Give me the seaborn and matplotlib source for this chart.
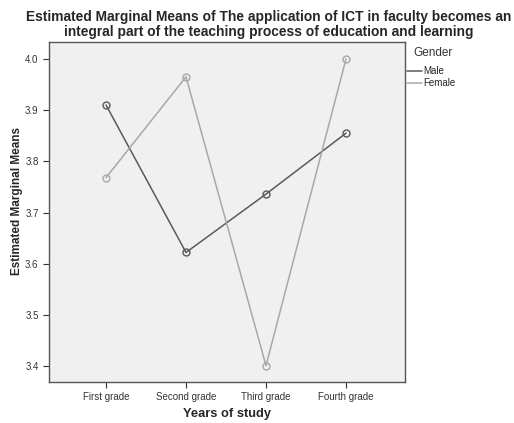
import pandas as pd
import matplotlib
matplotlib.use("Agg")
import matplotlib.pyplot as plt
import seaborn as sns

grades = ["First grade", "Second grade", "Third grade", "Fourth grade"]
male = [3.910, 3.622, 3.736, 3.855]
female = [3.768, 3.965, 3.401, 4.000]

df = pd.DataFrame({
    "Years of study": grades * 2,
    "Mean": male + female,
    "Gender": ["Male"] * 4 + ["Female"] * 4,
})

sns.set_style("white")
plt.rcParams["font.family"] = ["Liberation Sans", "DejaVu Sans"]

fig = plt.figure(figsize=(5.14, 4.23), dpi=100)
ax = fig.add_axes([49 / 514, 1 - 382 / 423, 356 / 514, 340 / 423])
ax.set_facecolor("#f0f0f0")

palette = {"Male": "#5a5a5a", "Female": "#a8a8a8"}
sns.lineplot(data=df, x="Years of study", y="Mean", hue="Gender",
             palette=palette, marker="o", markersize=5, markerfacecolor="none",
             markeredgewidth=1, linewidth=1.1, sort=False, ax=ax, legend=False)
# hollow markers coloured like the lines
for line, g in zip(ax.lines, ["Male", "Female"]):
    line.set_markeredgecolor(palette[g])

ax.set_xlim(-0.7125, 3.7375)
ax.set_ylim(3.369, 4.033)
ax.set_yticks([3.4, 3.5, 3.6, 3.7, 3.8, 3.9, 4.0])
ax.set_yticklabels(["3.4", "3.5", "3.6", "3.7", "3.8", "3.9", "4.0"])
ax.tick_params(axis="both", labelsize=7, length=4, width=0.8, colors="#333333",
               direction="out", bottom=True, left=True)
for s in ax.spines.values():
    s.set_color("#555555")
    s.set_linewidth(1)

ax.set_xlabel("Years of study", fontsize=9.3, fontweight="bold", labelpad=4)
ax.set_ylabel("Estimated Marginal Means", fontsize=8.5, fontweight="bold", labelpad=1.5)
ax.yaxis.label.set_y(0.532)

fig.text(0.522, 1 - 24.5 / 423,
         "Estimated Marginal Means of The application of ICT in faculty becomes an\n"
         "integral part of the teaching process of education and learning",
         ha="center", va="center", fontsize=9.9, fontweight="bold", linespacing=1.05)

# legend outside on the right
fig.text(413 / 514, 1 - 53 / 423, "Gender", fontsize=8.5, va="center", color="#333333")
for i, g in enumerate(["Male", "Female"]):
    y = 1 - (71 + i * 12) / 423
    fig.add_artist(plt.Line2D([407 / 514, 422 / 514], [y, y], color=palette[g],
                              linewidth=1.1, transform=fig.transFigure))
    fig.text(423 / 514, y, g, fontsize=7, va="center")

fig.savefig("out.png", dpi=100)
